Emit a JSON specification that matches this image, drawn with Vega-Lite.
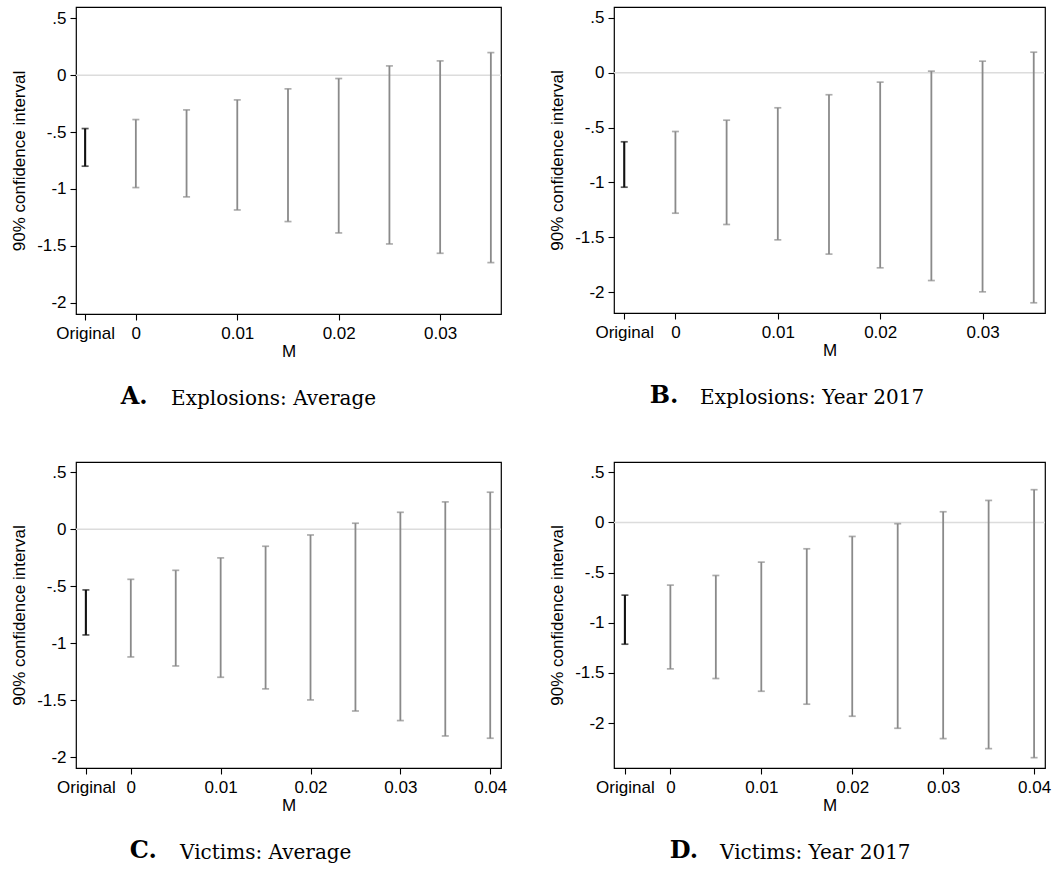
{
  "$schema": "https://vega.github.io/schema/vega-lite/v6.json",
  "background": "white",
  "padding": {"left": 10, "top": 6, "right": 0, "bottom": 0},
  "datasets": {
    "ci": [
      {"panel": "A", "kind": "Original", "m": -0.005, "lo": -0.800, "hi": -0.469},
      {"panel": "A", "kind": "Bound", "m": 0.000, "lo": -0.988, "hi": -0.390},
      {"panel": "A", "kind": "Bound", "m": 0.005, "lo": -1.070, "hi": -0.305},
      {"panel": "A", "kind": "Bound", "m": 0.010, "lo": -1.185, "hi": -0.217},
      {"panel": "A", "kind": "Bound", "m": 0.015, "lo": -1.287, "hi": -0.120},
      {"panel": "A", "kind": "Bound", "m": 0.020, "lo": -1.387, "hi": -0.029},
      {"panel": "A", "kind": "Bound", "m": 0.025, "lo": -1.484, "hi": 0.082},
      {"panel": "A", "kind": "Bound", "m": 0.030, "lo": -1.566, "hi": 0.126},
      {"panel": "A", "kind": "Bound", "m": 0.035, "lo": -1.648, "hi": 0.199},
      {"panel": "B", "kind": "Original", "m": -0.005, "lo": -1.043, "hi": -0.629},
      {"panel": "B", "kind": "Bound", "m": 0.000, "lo": -1.280, "hi": -0.535},
      {"panel": "B", "kind": "Bound", "m": 0.005, "lo": -1.383, "hi": -0.432},
      {"panel": "B", "kind": "Bound", "m": 0.010, "lo": -1.523, "hi": -0.319},
      {"panel": "B", "kind": "Bound", "m": 0.015, "lo": -1.653, "hi": -0.200},
      {"panel": "B", "kind": "Bound", "m": 0.020, "lo": -1.778, "hi": -0.085},
      {"panel": "B", "kind": "Bound", "m": 0.025, "lo": -1.894, "hi": 0.015},
      {"panel": "B", "kind": "Bound", "m": 0.030, "lo": -1.997, "hi": 0.106},
      {"panel": "B", "kind": "Bound", "m": 0.035, "lo": -2.097, "hi": 0.188},
      {"panel": "C", "kind": "Original", "m": -0.005, "lo": -0.927, "hi": -0.532},
      {"panel": "C", "kind": "Bound", "m": 0.000, "lo": -1.120, "hi": -0.439},
      {"panel": "C", "kind": "Bound", "m": 0.005, "lo": -1.199, "hi": -0.360},
      {"panel": "C", "kind": "Bound", "m": 0.010, "lo": -1.298, "hi": -0.251},
      {"panel": "C", "kind": "Bound", "m": 0.015, "lo": -1.400, "hi": -0.149},
      {"panel": "C", "kind": "Bound", "m": 0.020, "lo": -1.497, "hi": -0.050},
      {"panel": "C", "kind": "Bound", "m": 0.025, "lo": -1.594, "hi": 0.053},
      {"panel": "C", "kind": "Bound", "m": 0.030, "lo": -1.678, "hi": 0.149},
      {"panel": "C", "kind": "Bound", "m": 0.035, "lo": -1.813, "hi": 0.240},
      {"panel": "C", "kind": "Bound", "m": 0.040, "lo": -1.833, "hi": 0.325},
      {"panel": "D", "kind": "Original", "m": -0.005, "lo": -1.214, "hi": -0.725},
      {"panel": "D", "kind": "Bound", "m": 0.000, "lo": -1.460, "hi": -0.625},
      {"panel": "D", "kind": "Bound", "m": 0.005, "lo": -1.556, "hi": -0.529},
      {"panel": "D", "kind": "Bound", "m": 0.010, "lo": -1.683, "hi": -0.396},
      {"panel": "D", "kind": "Bound", "m": 0.015, "lo": -1.812, "hi": -0.263},
      {"panel": "D", "kind": "Bound", "m": 0.020, "lo": -1.932, "hi": -0.140},
      {"panel": "D", "kind": "Bound", "m": 0.025, "lo": -2.052, "hi": -0.013},
      {"panel": "D", "kind": "Bound", "m": 0.030, "lo": -2.155, "hi": 0.106},
      {"panel": "D", "kind": "Bound", "m": 0.035, "lo": -2.255, "hi": 0.219},
      {"panel": "D", "kind": "Bound", "m": 0.040, "lo": -2.345, "hi": 0.326}
    ]
  },
  "columns": 2,
  "spacing": {"row": 51, "column": 40},
  "concat": [
    {
      "title": {"text": "Explosions:  Average", "orient": "bottom", "anchor": "start", "frame": "bounds", "dx": 161, "offset": -5, "baseline": "alphabetic", "font": "DejaVu Serif", "fontSize": 20, "fontWeight": "normal", "color": "#000"},
      "vconcat": [{
        "width": 425, "height": 307,
        "data": {"name": "ci"},
        "transform": [{"filter": "datum.panel == 'A'"}],
        "title": {"text": "A.", "orient": "bottom", "anchor": "start", "frame": "bounds", "dx": 110, "offset": 45, "baseline": "alphabetic", "font": "DejaVu Serif", "fontSize": 24, "fontWeight": "bold", "color": "#000"},
        "layer": [
          {"transform": [{"filter": "datum.kind == 'Original'"}], "mark": {"type": "rule", "color": "#dcdcdc", "strokeWidth": 1.5}, "encoding": {"y": {"datum": 0, "type": "quantitative"}}},
          {"mark": {"type": "rule"},
           "encoding": {
             "x": {"field": "m", "type": "quantitative", "title": "M", "scale": {"domain": [-0.0059, 0.036], "nice": false, "zero": false},
                   "axis": {"values": [-0.005, 0, 0.01, 0.02, 0.03], "labelExpr": "datum.value < -0.001 ? 'Original' : datum.value == 0 ? '0' : format(datum.value, '.2f')"}},
             "y": {"field": "lo", "type": "quantitative", "title": "90% confidence interval", "scale": {"domain": [-2.1, 0.6], "nice": false, "zero": false},
                   "axis": {"values": [-2, -1.5, -1, -0.5, 0, 0.5], "labelExpr": "replace(toString(datum.value), '0.', '.')"}},
             "y2": {"field": "hi"},
             "color": {"condition": {"test": "datum.kind == 'Original'", "value": "#111111"}, "value": "#8a8a8a"},
             "strokeWidth": {"condition": {"test": "datum.kind == 'Original'", "value": 2.1}, "value": 1.8}
           }},
          {"mark": {"type": "tick", "orient": "horizontal", "size": 7, "thickness": 1.7},
           "encoding": {
             "x": {"field": "m", "type": "quantitative", "title": "M"},
             "y": {"field": "lo", "type": "quantitative", "title": "90% confidence interval"},
             "color": {"condition": {"test": "datum.kind == 'Original'", "value": "#111111"}, "value": "#8a8a8a"}
           }},
          {"mark": {"type": "tick", "orient": "horizontal", "size": 7, "thickness": 1.7},
           "encoding": {
             "x": {"field": "m", "type": "quantitative", "title": "M"},
             "y": {"field": "hi", "type": "quantitative", "title": "90% confidence interval"},
             "color": {"condition": {"test": "datum.kind == 'Original'", "value": "#111111"}, "value": "#8a8a8a"}
           }}
        ]
      }]
    },
    {
      "title": {"text": "Explosions:  Year 2017", "orient": "bottom", "anchor": "start", "frame": "bounds", "dx": 152, "offset": -5, "baseline": "alphabetic", "font": "DejaVu Serif", "fontSize": 20, "fontWeight": "normal", "color": "#000"},
      "vconcat": [{
        "width": 431, "height": 306,
        "data": {"name": "ci"},
        "transform": [{"filter": "datum.panel == 'B'"}],
        "title": {"text": "B.", "orient": "bottom", "anchor": "start", "frame": "bounds", "dx": 101, "offset": 45, "baseline": "alphabetic", "font": "DejaVu Serif", "fontSize": 24, "fontWeight": "bold", "color": "#000"},
        "layer": [
          {"transform": [{"filter": "datum.kind == 'Original'"}], "mark": {"type": "rule", "color": "#dcdcdc", "strokeWidth": 1.5}, "encoding": {"y": {"datum": 0, "type": "quantitative"}}},
          {"mark": {"type": "rule"},
           "encoding": {
             "x": {"field": "m", "type": "quantitative", "title": "M", "scale": {"domain": [-0.006, 0.0361], "nice": false, "zero": false},
                   "axis": {"values": [-0.005, 0, 0.01, 0.02, 0.03], "labelExpr": "datum.value < -0.001 ? 'Original' : datum.value == 0 ? '0' : format(datum.value, '.2f')"}},
             "y": {"field": "lo", "type": "quantitative", "title": "90% confidence interval", "scale": {"domain": [-2.19, 0.6], "nice": false, "zero": false},
                   "axis": {"values": [-2, -1.5, -1, -0.5, 0, 0.5], "labelExpr": "replace(toString(datum.value), '0.', '.')"}},
             "y2": {"field": "hi"},
             "color": {"condition": {"test": "datum.kind == 'Original'", "value": "#111111"}, "value": "#8a8a8a"},
             "strokeWidth": {"condition": {"test": "datum.kind == 'Original'", "value": 2.1}, "value": 1.8}
           }},
          {"mark": {"type": "tick", "orient": "horizontal", "size": 7, "thickness": 1.7},
           "encoding": {
             "x": {"field": "m", "type": "quantitative", "title": "M"},
             "y": {"field": "lo", "type": "quantitative", "title": "90% confidence interval"},
             "color": {"condition": {"test": "datum.kind == 'Original'", "value": "#111111"}, "value": "#8a8a8a"}
           }},
          {"mark": {"type": "tick", "orient": "horizontal", "size": 7, "thickness": 1.7},
           "encoding": {
             "x": {"field": "m", "type": "quantitative", "title": "M"},
             "y": {"field": "hi", "type": "quantitative", "title": "90% confidence interval"},
             "color": {"condition": {"test": "datum.kind == 'Original'", "value": "#111111"}, "value": "#8a8a8a"}
           }}
        ]
      }]
    },
    {
      "title": {"text": "Victims:  Average", "orient": "bottom", "anchor": "start", "frame": "bounds", "dx": 170, "offset": -5, "baseline": "alphabetic", "font": "DejaVu Serif", "fontSize": 20, "fontWeight": "normal", "color": "#000"},
      "vconcat": [{
        "width": 425, "height": 306,
        "data": {"name": "ci"},
        "transform": [{"filter": "datum.panel == 'C'"}],
        "title": {"text": "C.", "orient": "bottom", "anchor": "start", "frame": "bounds", "dx": 119, "offset": 45, "baseline": "alphabetic", "font": "DejaVu Serif", "fontSize": 24, "fontWeight": "bold", "color": "#000"},
        "layer": [
          {"transform": [{"filter": "datum.kind == 'Original'"}], "mark": {"type": "rule", "color": "#dcdcdc", "strokeWidth": 1.5}, "encoding": {"y": {"datum": 0, "type": "quantitative"}}},
          {"mark": {"type": "rule"},
           "encoding": {
             "x": {"field": "m", "type": "quantitative", "title": "M", "scale": {"domain": [-0.0061, 0.0412], "nice": false, "zero": false},
                   "axis": {"values": [-0.005, 0, 0.01, 0.02, 0.03, 0.04], "labelExpr": "datum.value < -0.001 ? 'Original' : datum.value == 0 ? '0' : format(datum.value, '.2f')"}},
             "y": {"field": "lo", "type": "quantitative", "title": "90% confidence interval", "scale": {"domain": [-2.094, 0.59], "nice": false, "zero": false},
                   "axis": {"values": [-2, -1.5, -1, -0.5, 0, 0.5], "labelExpr": "replace(toString(datum.value), '0.', '.')"}},
             "y2": {"field": "hi"},
             "color": {"condition": {"test": "datum.kind == 'Original'", "value": "#111111"}, "value": "#8a8a8a"},
             "strokeWidth": {"condition": {"test": "datum.kind == 'Original'", "value": 2.1}, "value": 1.8}
           }},
          {"mark": {"type": "tick", "orient": "horizontal", "size": 7, "thickness": 1.7},
           "encoding": {
             "x": {"field": "m", "type": "quantitative", "title": "M"},
             "y": {"field": "lo", "type": "quantitative", "title": "90% confidence interval"},
             "color": {"condition": {"test": "datum.kind == 'Original'", "value": "#111111"}, "value": "#8a8a8a"}
           }},
          {"mark": {"type": "tick", "orient": "horizontal", "size": 7, "thickness": 1.7},
           "encoding": {
             "x": {"field": "m", "type": "quantitative", "title": "M"},
             "y": {"field": "hi", "type": "quantitative", "title": "90% confidence interval"},
             "color": {"condition": {"test": "datum.kind == 'Original'", "value": "#111111"}, "value": "#8a8a8a"}
           }}
        ]
      }]
    },
    {
      "title": {"text": "Victims:  Year 2017", "orient": "bottom", "anchor": "start", "frame": "bounds", "dx": 172, "offset": -5, "baseline": "alphabetic", "font": "DejaVu Serif", "fontSize": 20, "fontWeight": "normal", "color": "#000"},
      "vconcat": [{
        "width": 431, "height": 306,
        "data": {"name": "ci"},
        "transform": [{"filter": "datum.panel == 'D'"}],
        "title": {"text": "D.", "orient": "bottom", "anchor": "start", "frame": "bounds", "dx": 121, "offset": 45, "baseline": "alphabetic", "font": "DejaVu Serif", "fontSize": 24, "fontWeight": "bold", "color": "#000"},
        "layer": [
          {"transform": [{"filter": "datum.kind == 'Original'"}], "mark": {"type": "rule", "color": "#dcdcdc", "strokeWidth": 1.5}, "encoding": {"y": {"datum": 0, "type": "quantitative"}}},
          {"mark": {"type": "rule"},
           "encoding": {
             "x": {"field": "m", "type": "quantitative", "title": "M", "scale": {"domain": [-0.0062, 0.0412], "nice": false, "zero": false},
                   "axis": {"values": [-0.005, 0, 0.01, 0.02, 0.03, 0.04], "labelExpr": "datum.value < -0.001 ? 'Original' : datum.value == 0 ? '0' : format(datum.value, '.2f')"}},
             "y": {"field": "lo", "type": "quantitative", "title": "90% confidence interval", "scale": {"domain": [-2.448, 0.602], "nice": false, "zero": false},
                   "axis": {"values": [-2, -1.5, -1, -0.5, 0, 0.5], "labelExpr": "replace(toString(datum.value), '0.', '.')"}},
             "y2": {"field": "hi"},
             "color": {"condition": {"test": "datum.kind == 'Original'", "value": "#111111"}, "value": "#8a8a8a"},
             "strokeWidth": {"condition": {"test": "datum.kind == 'Original'", "value": 2.1}, "value": 1.8}
           }},
          {"mark": {"type": "tick", "orient": "horizontal", "size": 7, "thickness": 1.7},
           "encoding": {
             "x": {"field": "m", "type": "quantitative", "title": "M"},
             "y": {"field": "lo", "type": "quantitative", "title": "90% confidence interval"},
             "color": {"condition": {"test": "datum.kind == 'Original'", "value": "#111111"}, "value": "#8a8a8a"}
           }},
          {"mark": {"type": "tick", "orient": "horizontal", "size": 7, "thickness": 1.7},
           "encoding": {
             "x": {"field": "m", "type": "quantitative", "title": "M"},
             "y": {"field": "hi", "type": "quantitative", "title": "90% confidence interval"},
             "color": {"condition": {"test": "datum.kind == 'Original'", "value": "#111111"}, "value": "#8a8a8a"}
           }}
        ]
      }]
    }
  ],
  "config": {
    "font": "Liberation Sans",
    "view": {"stroke": "#000000", "strokeWidth": 1.2},
    "axis": {
      "grid": false, "domain": false,
      "tickColor": "#000000", "tickSize": 6, "tickWidth": 1.1,
      "labelFont": "Liberation Sans", "labelFontSize": 17, "labelColor": "#000000",
      "labelFlush": false, "labelOverlap": false,
      "titleFont": "Liberation Sans", "titleFontSize": 17, "titleFontWeight": "normal", "titleColor": "#000000"
    },
    "axisX": {"labelPadding": 5, "titlePadding": 2},
    "axisY": {"labelPadding": 4, "titlePadding": 8}
  }
}
